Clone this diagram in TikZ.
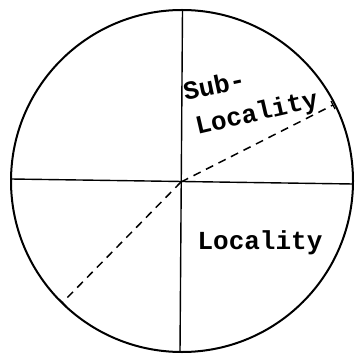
\documentclass[tikz,border=0pt]{standalone}
\usepackage{fontspec}
\newfontfamily\typefont{Liberation Mono}
\usetikzlibrary{calc, positioning}

\begin{document}
\begin{tikzpicture}[x=1pt, y=-1pt,
  lab/.style={font=\typefont\bfseries\fontsize{26}{28}\selectfont, inner sep=0pt}]
\useasboundingbox (0,0) rectangle (355,355);
\def\rad{171}
\coordinate (O) at (182,181);
\draw[line width=2pt] (O) circle (\rad);
% quarter lines
\coordinate (N) at (182.5,10);
\coordinate (S) at (180,352);
\coordinate (W) at (11,179);
\coordinate (E) at (353,184);
\coordinate (C) at (181,182);
\draw[line width=1.4pt] (N) -- (S);
\draw[line width=1.4pt] (W) -- (E);
% sub-locality boundary
\coordinate (A) at (333,105);
\coordinate (B) at (63,302);
\draw[line width=1.5pt, dash pattern=on 8pt off 6pt] (C) -- (A);
\draw[line width=1.5pt, dash pattern=on 8pt off 6pt] (C) -- (B);
\draw[line width=1.3pt] ($(A)+(-2,-4)$) -- ($(A)+(2,4)$);
\draw[line width=1.3pt] ($(B)+(-4,-3)$) -- ($(B)+(3,4)$);
\node[lab, rotate=12] (sub) at (214,85) {Sub-};
\node[lab, rotate=13] (loc1) at (257,114) {Locality};
\node[lab] (loc2) at (260,243) {Locality};
\end{tikzpicture}
\end{document}
